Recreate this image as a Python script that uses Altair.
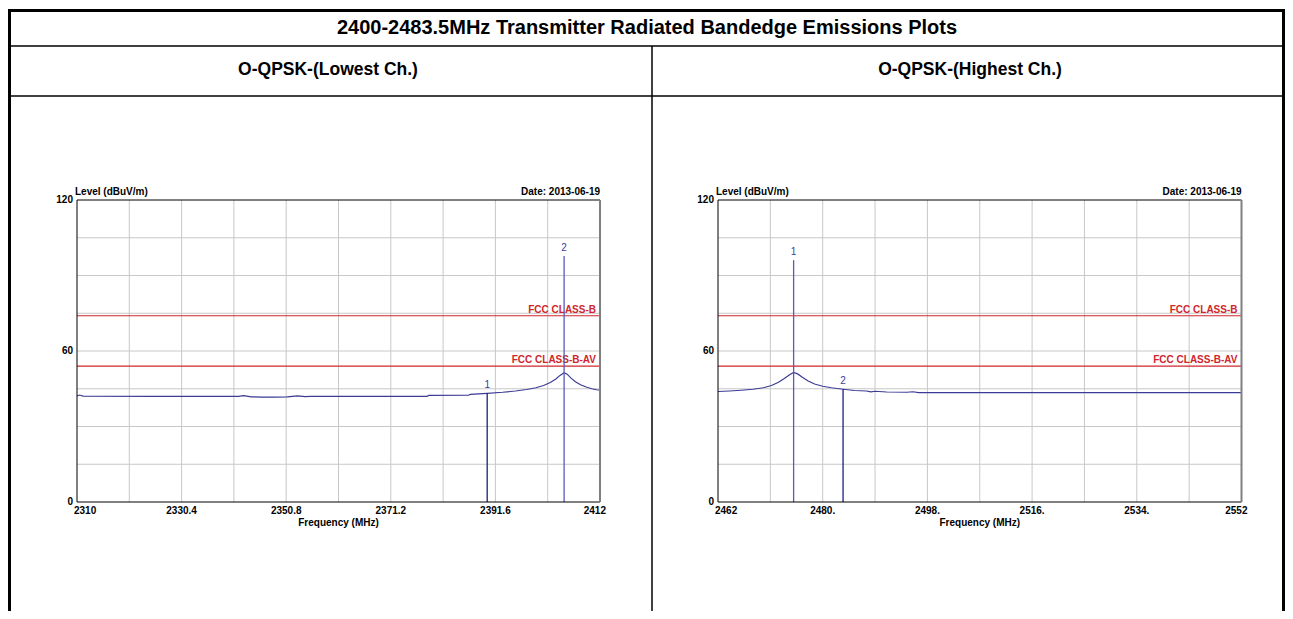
import altair as alt
import pandas as pd

# ---------------- text ----------------
TITLE = "2400-2483.5MHz Transmitter Radiated Bandedge Emissions Plots"
HEADERS = ["O-QPSK-(Lowest Ch.)", "O-QPSK-(Highest Ch.)"]
Y_LABEL = "Level (dBuV/m)"
X_LABEL = "Frequency (MHz)"
DATE_LABEL = "Date: 2013-06-19"

# ---------------- data ----------------
LOW_FREQ = [2310.0, 2310.5, 2311.2, 2325.0, 2341.5, 2342.5, 2344.0, 2346.0, 2348.5,
            2351.0, 2353.0, 2354.5, 2355.5, 2368.0, 2378.3, 2378.6, 2386.4, 2386.7,
            2390.0, 2393.0, 2395.5, 2397.7, 2399.5, 2401.0, 2402.3, 2403.4, 2404.2,
            2405.0, 2405.6, 2406.3, 2407.2, 2408.2, 2409.3, 2410.4, 2411.3, 2412.0]
LOW_LEVEL = [42.1, 42.5, 42.1, 42.0, 42.0, 42.3, 41.8, 41.7, 41.7,
             41.8, 42.2, 41.9, 42.0, 42.0, 42.0, 42.4, 42.5, 42.8,
             43.2, 43.6, 44.1, 44.7, 45.4, 46.3, 47.5, 48.9, 50.3,
             51.4, 50.8, 49.3, 47.8, 46.6, 45.7, 45.0, 44.6, 44.4]

HIGH_FREQ = [2462.0, 2464.0, 2466.0, 2468.0, 2469.8, 2471.2, 2472.4, 2473.4, 2474.3,
             2475.0, 2475.7, 2476.5, 2477.5, 2478.6, 2480.0, 2481.5, 2483.5, 2485.5,
             2487.5, 2488.3, 2489.0, 2491.0, 2494.5, 2495.5, 2496.5, 2552.0]
HIGH_LEVEL = [43.9, 44.1, 44.4, 44.8, 45.4, 46.3, 47.6, 49.1, 50.6,
              51.5, 50.9, 49.6, 48.1, 46.9, 46.0, 45.4, 44.8, 44.3,
              44.1, 43.8, 44.0, 43.7, 43.6, 43.8, 43.5, 43.5]

LOW_MARK_FREQ = [2390.0, 2405.0]
LOW_MARK_LEVEL = [43.2, 97.7]
LOW_MARK_NAME = ["1", "2"]
LOW_MARK_KIND = ["edge", "peak"]

HIGH_MARK_FREQ = [2475.0, 2483.5]
HIGH_MARK_LEVEL = [96.1, 44.8]
HIGH_MARK_NAME = ["1", "2"]
HIGH_MARK_KIND = ["peak", "edge"]

LIMIT_LEVEL = [74, 54]
LIMIT_NAME = ["FCC CLASS-B", "FCC CLASS-B-AV"]

LOW_DOMAIN = [2310, 2412]
HIGH_DOMAIN = [2462, 2552]
Y_DOMAIN = [0, 120]

LOW_TICKS = [2310, 2330.4, 2350.8, 2371.2, 2391.6, 2412]
LOW_TICK_LABELS = ["2310", "2330.4", "2350.8", "2371.2", "2391.6", "2412"]
HIGH_TICKS = [2462, 2480, 2498, 2516, 2534, 2552]
HIGH_TICK_LABELS = ["2462", "2480.", "2498.", "2516.", "2534.", "2552"]
Y_TICKS = [0, 60, 120]
Y_TICK_LABELS = ["0", "60", "120"]

LOW_GRID_X = [2320.2, 2330.4, 2340.6, 2350.8, 2361.0, 2371.2, 2381.4, 2391.6, 2401.8]
HIGH_GRID_X = [2471, 2480, 2489, 2498, 2507, 2516, 2525, 2534, 2543]
GRID_Y = [15, 30, 45, 60, 75, 90, 105]

# ---------------- layout / style ----------------
W, H = 1277, 603
FONT = "Liberation Sans"
Y_RANGE = [494, 192]
LOW_RANGE = [69, 592]
HIGH_RANGE = [710, 1233.5]

TRACE_COLOR = "#3b3b96"
LIMIT_COLOR = "#d0262c"
GRID_COLOR = "#c8c8c8"
MARK_KINDS = ["peak", "edge"]
MARK_COLORS = ["#5a5abb", "#1e1e84"]


def panel(freq, level, mfreq, mlevel, mname, mkind, domain, xrange, ticks, tick_labels, grid_x):
    xs = alt.Scale(domain=domain, range=xrange, nice=False, zero=False)
    ys = alt.Scale(domain=Y_DOMAIN, range=Y_RANGE, nice=False, zero=False)

    def X(f):
        return alt.X(f, scale=xs, axis=None)

    def Y(f):
        return alt.Y(f, scale=ys, axis=None)

    x0, x1 = domain
    y0, y1 = Y_DOMAIN
    frame_df = pd.DataFrame({"x0": [x0], "x1": [x1], "y0": [y0], "y1": [y1]})

    bg = alt.Chart(frame_df).mark_rect(fill="white").encode(
        x=X("x0:Q"), x2="x1:Q", y=Y("y0:Q"), y2="y1:Q")
    vgrid = alt.Chart(pd.DataFrame({"g": grid_x, "y0": y0, "y1": y1})).mark_rule(
        color=GRID_COLOR, strokeWidth=1).encode(x=X("g:Q"), y=Y("y0:Q"), y2="y1:Q")
    hgrid = alt.Chart(pd.DataFrame({"g": GRID_Y, "x0": x0, "x1": x1})).mark_rule(
        color=GRID_COLOR, strokeWidth=1).encode(x=X("x0:Q"), x2="x1:Q", y=Y("g:Q"))

    lim_df = pd.DataFrame({"lv": LIMIT_LEVEL, "name": LIMIT_NAME, "x0": x0, "x1": x1})
    lim = alt.Chart(lim_df).mark_rule(color=LIMIT_COLOR, strokeWidth=1.2).encode(
        x=X("x0:Q"), x2="x1:Q", y=Y("lv:Q"))
    lim_txt = alt.Chart(lim_df).mark_text(
        align="right", baseline="bottom", dx=-4, dy=-1, font=FONT, fontSize=10,
        fontWeight="bold", color=LIMIT_COLOR).encode(x=X("x1:Q"), y=Y("lv:Q"), text="name:N")

    trace = alt.Chart(pd.DataFrame({"f": freq, "v": level})).mark_line(
        color=TRACE_COLOR, strokeWidth=1.2).encode(x=X("f:Q"), y=Y("v:Q"))

    mdf = pd.DataFrame({"mf": mfreq, "ml": mlevel, "name": mname, "kind": mkind, "base": y0})
    mrule = alt.Chart(mdf).mark_rule(strokeWidth=1.3).encode(
        x=X("mf:Q"), y=Y("base:Q"), y2="ml:Q",
        color=alt.Color("kind:N", scale=alt.Scale(domain=MARK_KINDS, range=MARK_COLORS), legend=None))
    mtxt = alt.Chart(mdf).mark_text(dy=-8, font=FONT, fontSize=10, color="#3c3c9c").encode(
        x=X("mf:Q"), y=Y("ml:Q"), text="name:N")

    lvl = alt.Chart(pd.DataFrame({"x": [x0], "y": [y1], "t": [Y_LABEL]})).mark_text(
        align="left", baseline="bottom", dx=-2, dy=-3, font=FONT, fontSize=10,
        fontWeight="bold", color="black").encode(x=X("x:Q"), y=Y("y:Q"), text="t:N")
    date = alt.Chart(pd.DataFrame({"x": [x1], "y": [y1], "t": [DATE_LABEL]})).mark_text(
        align="right", baseline="bottom", dy=-3, font=FONT, fontSize=10,
        fontWeight="bold", color="black").encode(x=X("x:Q"), y=Y("y:Q"), text="t:N")

    # tick labels (x) : first left-aligned, middle centred, last right-aligned
    tdf = pd.DataFrame({"tv": ticks, "tl": tick_labels, "y": y0})
    tick_style = dict(baseline="top", dy=4, font=FONT, fontSize=10, fontWeight="bold", color="black")
    xt_first = alt.Chart(tdf.iloc[:1]).mark_text(align="left", dx=-3, **tick_style).encode(
        x=X("tv:Q"), y=Y("y:Q"), text="tl:N")
    xt_mid = alt.Chart(tdf.iloc[1:-1]).mark_text(align="center", **tick_style).encode(
        x=X("tv:Q"), y=Y("y:Q"), text="tl:N")
    xt_last = alt.Chart(tdf.iloc[-1:]).mark_text(align="right", dx=6, **tick_style).encode(
        x=X("tv:Q"), y=Y("y:Q"), text="tl:N")
    xtitle = alt.Chart(pd.DataFrame({"x": [(x0 + x1) / 2], "y": [y0], "t": [X_LABEL]})).mark_text(
        baseline="top", dy=16, font=FONT, fontSize=10, fontWeight="bold", color="black").encode(
        x=X("x:Q"), y=Y("y:Q"), text="t:N")
    # tick labels (y)
    ydf = pd.DataFrame({"yv": Y_TICKS, "yl": Y_TICK_LABELS, "x": x0})
    yt = alt.Chart(ydf).mark_text(align="right", baseline="middle", dx=-4, font=FONT, fontSize=10,
                                  fontWeight="bold", color="black").encode(
        x=X("x:Q"), y=Y("yv:Q"), text="yl:N")

    frame = alt.Chart(frame_df).mark_rect(fillOpacity=0, stroke="black", strokeWidth=1).encode(
        x=X("x0:Q"), x2="x1:Q", y=Y("y0:Q"), y2="y1:Q")
    right_edge = alt.Chart(frame_df).mark_rule(color="#808080", strokeWidth=2).encode(
        x=X("x1:Q"), y=Y("y0:Q"), y2="y1:Q")

    return alt.layer(bg, vgrid, hgrid, lim, lim_txt, trace, mrule, mtxt, lvl, date,
                     xt_first, xt_mid, xt_last, xtitle, yt, frame, right_edge)


ONE = pd.DataFrame({"a": [0]})


def hrule(y, xa, xb, w):
    return alt.Chart(ONE).mark_rule(color="black", strokeWidth=w).encode(
        y=alt.value(y), x=alt.value(xa), x2=alt.value(xb))


def vrule(x, ya, yb, w):
    return alt.Chart(ONE).mark_rule(color="black", strokeWidth=w).encode(
        x=alt.value(x), y=alt.value(ya), y2=alt.value(yb))


def label(text, x, y, size):
    return alt.Chart(pd.DataFrame({"t": [text]})).mark_text(
        font=FONT, fontSize=size, fontWeight="bold", align="center", baseline="middle",
        color="black").encode(x=alt.value(x), y=alt.value(y), text="t:N")


deco = [
    hrule(2.5, 0, W, 3),
    vrule(1.5, 1, H, 3),
    vrule(W - 1.5, 1, H, 3),
    hrule(38, 0, W, 1.5),
    hrule(88, 0, W, 1.5),
    vrule(644, 38, H, 1.5),
    label(TITLE, 639, 20, 20),
    label(HEADERS[0], 320, 62, 17.5),
    label(HEADERS[1], 962, 62, 17.5),
]

low = panel(LOW_FREQ, LOW_LEVEL, LOW_MARK_FREQ, LOW_MARK_LEVEL, LOW_MARK_NAME, LOW_MARK_KIND,
            LOW_DOMAIN, LOW_RANGE, LOW_TICKS, LOW_TICK_LABELS, LOW_GRID_X)
high = panel(HIGH_FREQ, HIGH_LEVEL, HIGH_MARK_FREQ, HIGH_MARK_LEVEL, HIGH_MARK_NAME, HIGH_MARK_KIND,
             HIGH_DOMAIN, HIGH_RANGE, HIGH_TICKS, HIGH_TICK_LABELS, HIGH_GRID_X)

chart = alt.layer(*deco, low, high).resolve_scale(
    x="independent", y="independent"
).properties(
    width=W, height=H, padding=0, background="white",
    autosize=alt.AutoSizeParams(type="none"),
).configure_view(stroke="transparent")

chart.save("out.html", embed_options={"renderer": "svg", "actions": False})
